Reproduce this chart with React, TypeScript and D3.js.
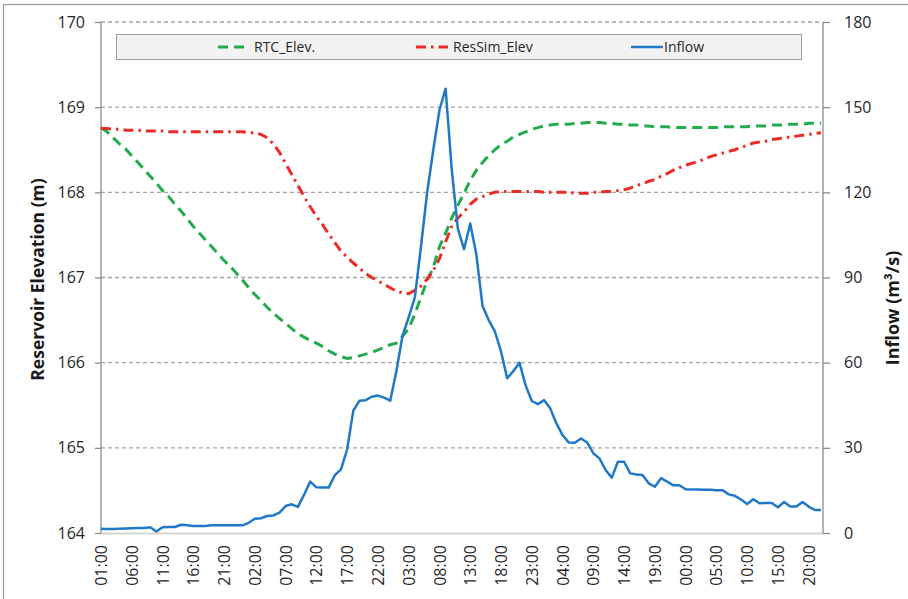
import React, { useEffect, useRef } from 'react';
import * as d3 from 'd3';

// hourly series, 01:00 on day 1 through 22:00 on day 5
const inflow = [
    1.5, 1.4, 1.4, 1.5, 1.6, 1.7, 1.8, 1.8, 2.0, 0.5,
    2.0, 2.1, 2.1, 2.9, 2.7, 2.5, 2.5, 2.5, 2.7, 2.7,
    2.7, 2.7, 2.7, 2.7, 3.6, 5.0, 5.2, 6.0, 6.2, 7.2,
    9.5, 10.1, 9.2, 13.5, 18.1, 16.1, 16.0, 16.0, 20.4, 22.4,
    29.5, 43.1, 46.6, 46.8, 48.0, 48.4, 47.7, 46.6, 57.0, 69.5,
    76.0, 83.0, 101.0, 120.0, 135.0, 149.0, 156.5, 128.0, 107.0, 100.0,
    109.0, 98.0, 80.0, 75.0, 71.0, 64.0, 54.5, 57.0, 60.0, 52.0,
    46.5, 45.4, 46.8, 43.9, 38.6, 34.5, 31.9, 31.8, 33.3, 31.9,
    28.1, 26.3, 22.2, 19.5, 25.1, 25.1, 21.0, 20.6, 20.4, 17.5,
    16.3, 19.3, 18.1, 16.8, 16.8, 15.4, 15.3, 15.3, 15.2, 15.2,
    15.1, 15.1, 13.6, 13.1, 11.8, 10.2, 11.9, 10.5, 10.6, 10.6,
    9.1, 10.9, 9.3, 9.3, 10.9, 9.3, 8.1, 8.1,
];

const rtcElev = [
    168.76, 168.71, 168.64, 168.57, 168.51, 168.43, 168.35, 168.27, 168.19, 168.11,
    168.02, 167.95, 167.86, 167.78, 167.69, 167.60, 167.52, 167.44, 167.36, 167.28,
    167.20, 167.13, 167.05, 166.97, 166.88, 166.80, 166.73, 166.65, 166.58, 166.52,
    166.46, 166.40, 166.34, 166.30, 166.26, 166.23, 166.19, 166.14, 166.10, 166.07,
    166.05, 166.06, 166.08, 166.10, 166.12, 166.15, 166.18, 166.21, 166.23, 166.31,
    166.40, 166.57, 166.77, 166.96, 167.12, 167.36, 167.52, 167.70, 167.85, 167.99,
    168.14, 168.26, 168.35, 168.43, 168.50, 168.56, 168.60, 168.65, 168.68, 168.71,
    168.74, 168.76, 168.78, 168.79, 168.80, 168.80, 168.80, 168.81, 168.81, 168.82,
    168.82, 168.82, 168.81, 168.81, 168.80, 168.80, 168.79, 168.79, 168.78, 168.78,
    168.77, 168.77, 168.77, 168.76, 168.76, 168.76, 168.76, 168.76, 168.76, 168.76,
    168.76, 168.77, 168.77, 168.77, 168.77, 168.77, 168.78, 168.78, 168.78, 168.79,
    168.79, 168.79, 168.80, 168.80, 168.80, 168.81, 168.81, 168.81,
];

const resSimElev = [
    168.75, 168.75, 168.74, 168.74, 168.73, 168.73, 168.73, 168.72, 168.72, 168.72,
    168.72, 168.71, 168.71, 168.71, 168.71, 168.71, 168.71, 168.71, 168.71, 168.71,
    168.71, 168.71, 168.71, 168.71, 168.70, 168.70, 168.68, 168.64, 168.57, 168.47,
    168.34, 168.21, 168.08, 167.95, 167.83, 167.72, 167.62, 167.51, 167.41, 167.31,
    167.24, 167.17, 167.11, 167.05, 167.00, 166.96, 166.92, 166.88, 166.84, 166.82,
    166.81, 166.85, 166.90, 166.98, 167.08, 167.22, 167.42, 167.60, 167.70, 167.77,
    167.86, 167.92, 167.95, 167.98, 168.00, 168.01, 168.01, 168.01, 168.01, 168.01,
    168.01, 168.01, 168.00, 168.00, 168.00, 168.00, 168.00, 167.99, 167.99, 167.99,
    168.00, 168.00, 168.01, 168.01, 168.02, 168.03, 168.05, 168.08, 168.10, 168.13,
    168.15, 168.19, 168.22, 168.26, 168.29, 168.32, 168.34, 168.36, 168.39, 168.42,
    168.44, 168.46, 168.48, 168.50, 168.53, 168.55, 168.58, 168.59, 168.60, 168.62,
    168.63, 168.64, 168.65, 168.66, 168.67, 168.68, 168.69, 168.70,
];

// every 5th hour gets a label
const tickLabels = [
    '01:00', '06:00', '11:00', '16:00', '21:00', '02:00', '07:00', '12:00',
    '17:00', '22:00', '03:00', '08:00', '13:00', '18:00', '23:00', '04:00',
    '09:00', '14:00', '19:00', '00:00', '05:00', '10:00', '15:00', '20:00',
];
const tickEvery = 5;

const elevTicks = [164, 165, 166, 167, 168, 169, 170];
const flowTicks = [0, 30, 60, 90, 120, 150, 180];

const width = 908;
const height = 599;
const margins = { top: 22, right: 87, bottom: 66, left: 101 };
const font = "'Open Sans', 'Noto Sans', sans-serif";

const GREEN = '#22ab4a';
const RED = '#ee2a24';
const BLUE = '#1f78c8';
const GREEN_DASH = '10,6';
const RED_DASH = '10,5,2.5,5';

function Chart() {
    const svgRef = useRef<SVGSVGElement>(null);

    useEffect(() => {
        const svg = d3.select(svgRef.current);
        svg.selectAll('*').remove();

        const x0 = margins.left;
        const x1 = width - margins.right;
        const yTop = margins.top;
        const yBottom = height - margins.bottom;

        // scales
        const x = d3.scaleLinear().domain([0, inflow.length - 1]).range([x0, x1]);
        const yElev = d3.scaleLinear().domain([164, 170]).range([yBottom, yTop]);
        const yFlow = d3.scaleLinear().domain([0, 180]).range([yBottom, yTop]);

        svg.append('rect').attr('width', width).attr('height', height).attr('fill', '#fff');
        // outer chart border (only top/left visible in the crop)
        svg.append('rect')
            .attr('x', 3.5).attr('y', 4.5)
            .attr('width', width + 40).attr('height', height + 40)
            .attr('fill', 'none').attr('stroke', '#9a9a9a').attr('stroke-width', 1.2);

        // gridlines
        svg.append('g')
            .selectAll('line')
            .data(elevTicks.filter(d => d > 164))
            .join('line')
            .attr('x1', x0).attr('x2', x1)
            .attr('y1', d => yElev(d)).attr('y2', d => yElev(d))
            .attr('stroke', '#a3a3a3')
            .attr('stroke-width', 1.3)
            .attr('stroke-dasharray', '4,3');

        // bottom axis line
        svg.append('line')
            .attr('x1', x0).attr('x2', x1 + 2)
            .attr('y1', yBottom + 0.5).attr('y2', yBottom + 0.5)
            .attr('stroke', '#d4d4d4').attr('stroke-width', 2);

        // left axis
        const gLeft = svg.append('g')
            .attr('transform', `translate(${x0},0)`)
            .call(d3.axisLeft(yElev).tickValues(elevTicks).tickSize(6).tickPadding(10).tickFormat(d3.format('d')));
        gLeft.select('.domain').attr('stroke', '#8c8c8c').attr('stroke-width', 1.3).attr('d', `M0,${yTop}V${yBottom}`);
        gLeft.selectAll('.tick line').attr('stroke', '#8c8c8c').attr('stroke-width', 1.3);
        gLeft.selectAll('.tick text')
            .attr('fill', '#262626').style('font-family', font).style('font-size', '16px');

        // right axis
        const gRight = svg.append('g')
            .attr('transform', `translate(${x1 + 2},0)`)
            .call(d3.axisRight(yFlow).tickValues(flowTicks).tickSize(7).tickPadding(14).tickFormat(d3.format('d')));
        gRight.select('.domain').attr('stroke', '#8c8c8c').attr('stroke-width', 1.3).attr('d', `M0,${yTop}V${yBottom}`);
        gRight.selectAll('.tick line').attr('stroke', '#8c8c8c').attr('stroke-width', 1.3);
        gRight.selectAll('.tick text')
            .attr('fill', '#262626').style('font-family', font).style('font-size', '16px');

        // bottom axis labels, rotated
        const labelIdx = tickLabels.map((_, i) => i * tickEvery);
        const gBottom = svg.append('g')
            .attr('transform', `translate(0,${yBottom})`)
            .call(d3.axisBottom(x).tickValues(labelIdx).tickSize(0)
                .tickFormat((d) => tickLabels[Math.round(+d / tickEvery)]));
        gBottom.select('.domain').remove();
        gBottom.selectAll('.tick text')
            .attr('transform', 'rotate(-90)')
            .attr('x', -12).attr('y', 0).attr('dy', '0.35em')
            .style('text-anchor', 'end')
            .attr('fill', '#262626').style('font-family', font).style('font-size', '16px');

        // series
        const elevLine = d3.line<number>().x((_, i) => x(i)).y(d => yElev(d));
        const flowLine = d3.line<number>().x((_, i) => x(i)).y(d => yFlow(d));

        svg.append('path').datum(rtcElev)
            .attr('d', elevLine).attr('fill', 'none')
            .attr('stroke', GREEN).attr('stroke-width', 3).attr('stroke-dasharray', GREEN_DASH);
        svg.append('path').datum(resSimElev)
            .attr('d', elevLine).attr('fill', 'none')
            .attr('stroke', RED).attr('stroke-width', 3).attr('stroke-dasharray', RED_DASH);
        svg.append('path').datum(inflow)
            .attr('d', flowLine).attr('fill', 'none')
            .attr('stroke', BLUE).attr('stroke-width', 2.5).attr('stroke-linejoin', 'round');

        // axis titles
        svg.append('text')
            .attr('transform', `translate(38,${(yTop + yBottom) / 2 + 2}) rotate(-90)`)
            .attr('text-anchor', 'middle').attr('dy', '0.35em')
            .style('font-family', font).style('font-size', '17.5px').style('font-weight', 'bold')
            .attr('fill', '#1a1a1a')
            .text('Reservoir Elevation (m)');
        svg.append('text')
            .attr('transform', `translate(893,308) rotate(-90)`)
            .attr('text-anchor', 'middle').attr('dy', '0.35em')
            .style('font-family', font).style('font-size', '18px').style('font-weight', 'bold')
            .attr('fill', '#1a1a1a')
            .text('Inflow (m³/s)');

        // legend
        const legend = svg.append('g');
        legend.append('rect')
            .attr('x', 116.5).attr('y', 34.5).attr('width', 685).attr('height', 25)
            .attr('fill', '#f2f2f2').attr('stroke', '#9e9e9e');
        const items = [
            { label: 'RTC_Elev.', color: GREEN, dash: GREEN_DASH, x: 218, sw: 3 },
            { label: 'ResSim_Elev', color: RED, dash: RED_DASH, x: 416, sw: 3 },
            { label: 'Inflow', color: BLUE, dash: null, x: 631, sw: 2.5 },
        ];
        const textX = [254, 453, 664];
        items.forEach((it, k) => {
            legend.append('line')
                .attr('x1', it.x).attr('x2', it.x + 32)
                .attr('y1', 47).attr('y2', 47)
                .attr('stroke', it.color).attr('stroke-width', it.sw)
                .attr('stroke-dasharray', it.dash);
            legend.append('text')
                .attr('x', textX[k]).attr('y', 47).attr('dy', '0.35em')
                .style('font-family', font).style('font-size', '14px')
                .attr('fill', '#262626')
                .text(it.label);
        });
    }, []);

    return <svg ref={svgRef} width={width} height={height} />;
}

export default function App() {
    return (
        <div style={{ position: 'fixed', left: 0, top: 0, width, height, background: '#fff' }}>
            <Chart />
        </div>
    );
}
